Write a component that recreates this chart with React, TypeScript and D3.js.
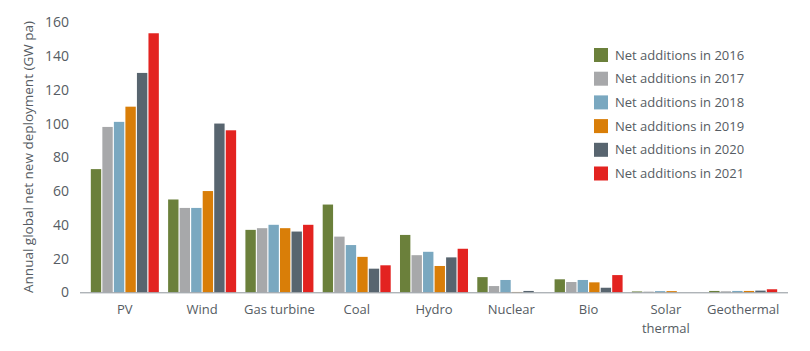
import React, { useRef, useEffect } from 'react';
import * as d3 from 'd3';

const categories = ['PV', 'Wind', 'Gas turbine', 'Coal', 'Hydro', 'Nuclear', 'Bio', 'Solar\nthermal', 'Geothermal'];
const years = ['2016', '2017', '2018', '2019', '2020', '2021'];
const colors = ['#6b803b', '#a7a8aa', '#7aa8c0', '#d97e08', '#58656f', '#e32320'];

const values2016 = [73, 55, 37, 52, 34, 9, 7.7, 0.5, 0.8];
const values2017 = [98, 50, 38, 33, 22, 3.7, 6.1, 0.4, 0.6];
const values2018 = [101, 50, 40, 28, 24, 7.3, 7.3, 0.7, 0.8];
const values2019 = [110, 60, 38, 21, 15.6, 0.2, 5.9, 0.7, 0.8];
const values2020 = [130, 100, 36, 14, 20.7, 0.8, 2.7, 0, 1.0];
const values2021 = [153.5, 96, 40, 16, 25.8, 0, 10.2, 0, 1.8];
const series = [values2016, values2017, values2018, values2019, values2020, values2021];

const yTicks = [0, 20, 40, 60, 80, 100, 120, 140, 160];

const W = 810;
const H = 351;
const FONT = '"Open Sans", sans-serif';
const TEXT = '#565c63';

const App: React.FC = () => {
    const ref = useRef<SVGSVGElement | null>(null);

    useEffect(() => {
        document.body.style.margin = '0';
        const svg = d3.select(ref.current);
        svg.selectAll('*').remove();

        const x = d3.scaleBand<string>().domain(categories).range([80, 788]).paddingInner(0.12).paddingOuter(0.14);
        const xi = d3.scaleBand<string>().domain(years).range([0, x.bandwidth()]).paddingInner(0.1);
        const y = d3.scaleLinear().domain([0, 160]).range([292.3, 22.3]);

        // bars
        const groups = svg.append('g')
            .selectAll('g')
            .data(categories)
            .enter()
            .append('g')
            .attr('transform', d => `translate(${x(d)},0)`);

        groups.selectAll('rect')
            .data((_, ci) => years.map((yr, si) => ({ yr, v: series[si][ci], c: colors[si] })))
            .enter()
            .append('rect')
            .attr('x', d => xi(d.yr) as number)
            .attr('width', xi.bandwidth())
            .attr('y', d => y(d.v))
            .attr('height', d => y(0) - y(d.v))
            .attr('fill', d => d.c);

        // x axis line
        svg.append('line')
            .attr('x1', 80).attr('x2', 788)
            .attr('y1', y(0) + 0.5).attr('y2', y(0) + 0.5)
            .attr('stroke', '#8d949a').attr('stroke-width', 1);

        // category labels
        const cl = svg.append('g')
            .selectAll('text')
            .data(categories)
            .enter()
            .append('text')
            .attr('y', 314)
            .attr('text-anchor', 'middle')
            .attr('font-family', FONT)
            .attr('font-size', 13)
            .attr('fill', TEXT);
        cl.each(function (d) {
            const t = d3.select(this);
            d.split('\n').forEach((ln, i) => {
                t.append('tspan')
                    .attr('x', (x(d) as number) + x.bandwidth() / 2)
                    .attr('dy', i === 0 ? 0 : 19)
                    .text(ln);
            });
        });

        // y ticks
        svg.append('g')
            .selectAll('text')
            .data(yTicks)
            .enter()
            .append('text')
            .attr('x', 69)
            .attr('y', d => y(d))
            .attr('dy', '0.36em')
            .attr('text-anchor', 'end')
            .attr('font-family', FONT)
            .attr('font-size', 14)
            .attr('fill', TEXT)
            .text(d => d);

        // y title
        svg.append('text')
            .attr('transform', `translate(33,157) rotate(-90)`)
            .attr('text-anchor', 'middle')
            .attr('font-family', FONT)
            .attr('font-size', 13.5)
            .attr('fill', TEXT)
            .text('Annual global net new deployment (GW pa)');

        // legend
        const lg = svg.append('g')
            .selectAll('g')
            .data(years)
            .enter()
            .append('g')
            .attr('transform', (_, i) => `translate(594,${55 + i * 23.7})`);
        lg.append('rect')
            .attr('x', 0).attr('y', -7)
            .attr('width', 14).attr('height', 14)
            .attr('fill', (_, i) => colors[i]);
        lg.append('text')
            .attr('x', 21)
            .attr('y', 0)
            .attr('dy', '0.36em')
            .attr('font-family', FONT)
            .attr('font-size', 13)
            .attr('fill', TEXT)
            .text(d => `Net additions in ${d}`);
    }, []);

    return <svg ref={ref} width={W} height={H} style={{ display: 'block', background: '#fff' }}></svg>;
};

export default App;
